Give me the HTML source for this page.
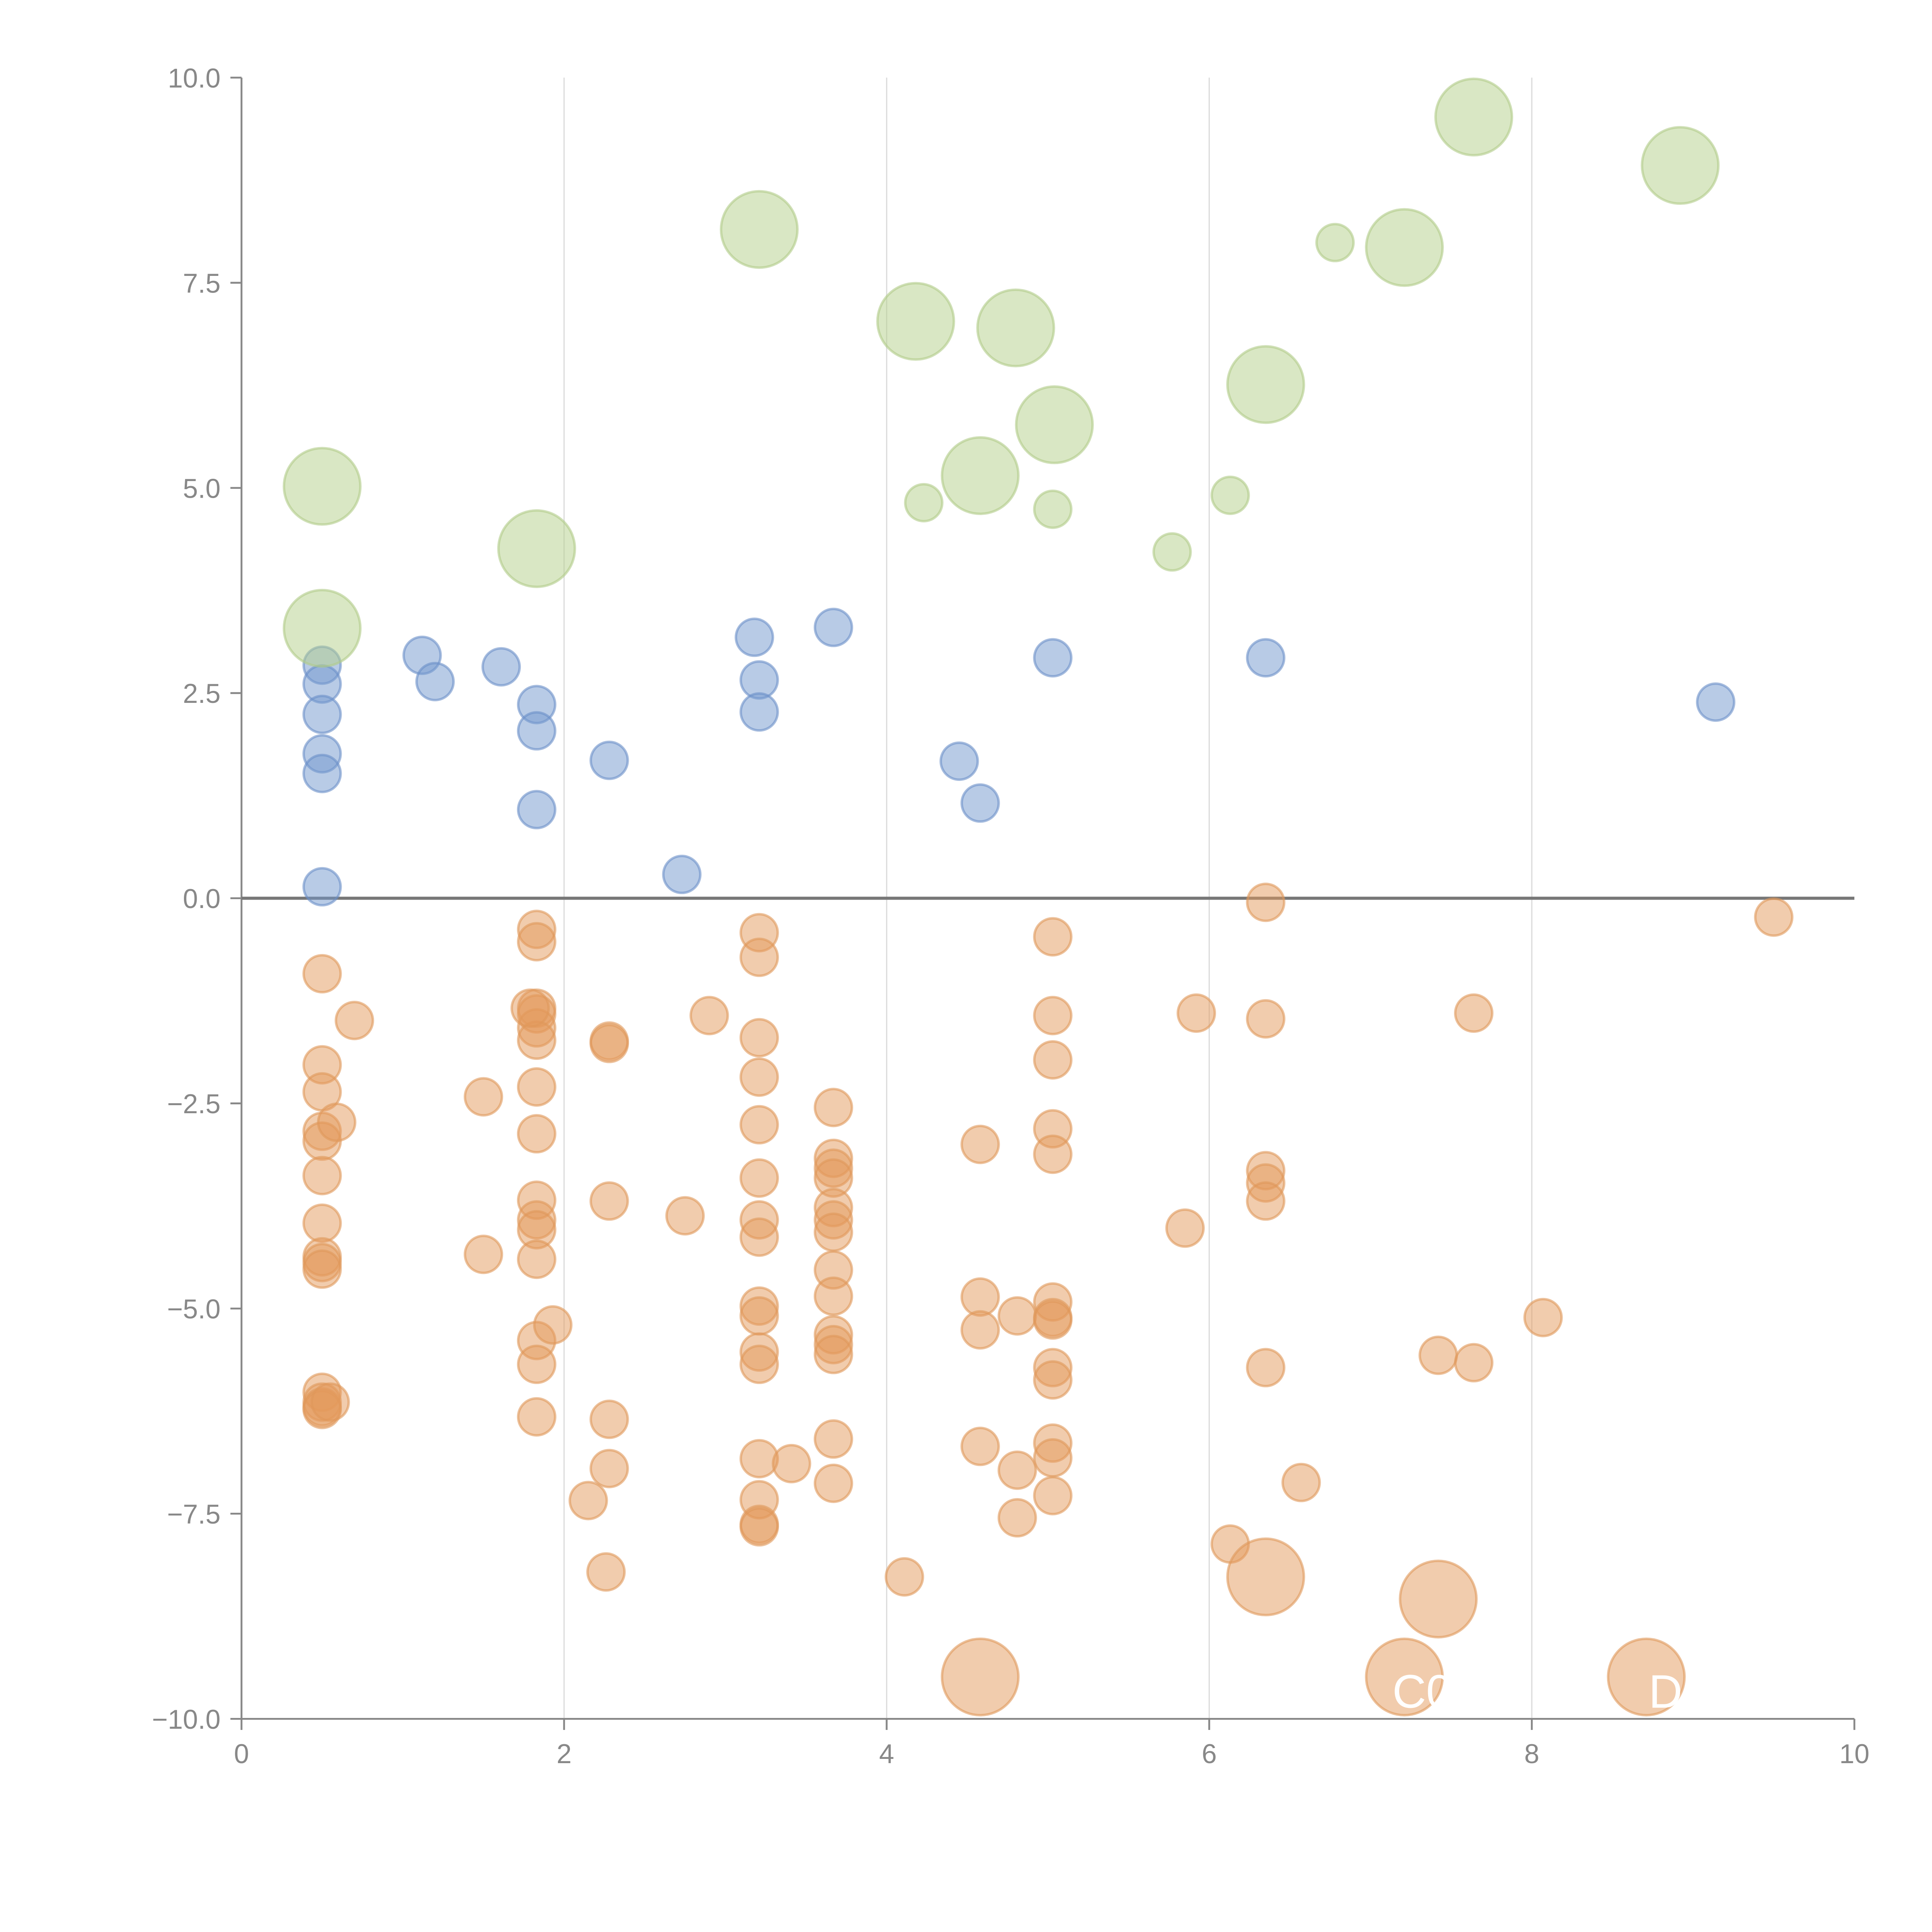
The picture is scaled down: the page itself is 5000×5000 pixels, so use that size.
<!DOCTYPE html>
<html><head><meta charset="utf-8"><style>
html,body{margin:0;padding:0;background:#fff}
svg{display:block}
text{font-family:"Liberation Sans",sans-serif}
</style></head><body>
<svg id="chart" width="5000" height="5000" viewBox="0 0 1568 1568" xmlns="http://www.w3.org/2000/svg">
<g id="grid"></g>
<g id="axes"></g>
<g id="marks"></g>
<text x="1130" y="1386" fill="#fff" font-size="38">C0</text>
<text x="1338" y="1386" fill="#fff" font-size="38">D</text>
</svg>
<script>
const xTicks=[0,2,4,6,8,10];
const yTicks=[10,7.5,5,2.5,0,-2.5,-5,-7.5,-10];
const yTickLabels=["10.0","7.5","5.0","2.5","0.0","\u22122.5","\u22125.0","\u22127.5","\u221210.0"];
const blueX=[0.5,0.5,0.5,0.5,0.5,0.5,1.12,1.2,1.61,1.83,1.83,1.83,2.28,2.73,3.18,3.21,3.21,3.67,4.45,4.58,5.03,6.35,9.14];
const blueY=[2.84,2.61,2.24,1.76,1.52,0.14,2.96,2.64,2.82,2.36,2.04,1.08,1.68,0.29,3.18,2.66,2.27,3.3,1.67,1.16,2.93,2.93,2.39];
const greenX=[0.5,0.5,1.83,3.21,4.18,4.8,4.58,5.04,6.35,7.21,7.64,8.92,4.23,5.03,5.77,6.13,6.78];
const greenY=[5.02,3.29,4.26,8.15,7.03,6.95,5.15,5.77,6.26,7.93,9.52,8.93,4.82,4.74,4.22,4.91,7.99];
const greenSize=[2,2,2,2,2,2,2,2,2,2,2,2,1,1,1,1,1];
const orangeX=[0.5,0.5,0.5,0.5,0.5,0.5,0.5,0.5,0.5,0.5,0.5,0.5,0.5,0.5,0.7,0.59,0.55,1.5,1.5,
1.83,1.83,1.83,1.83,1.83,1.83,1.83,1.83,1.83,1.83,1.83,1.83,1.83,1.83,1.83,1.79,1.93,
2.28,2.28,2.28,2.28,2.28,2.15,2.26,2.75,2.9,
3.21,3.21,3.21,3.21,3.21,3.21,3.21,3.21,3.21,3.21,3.21,3.21,3.21,3.21,3.21,3.21,3.41,
3.67,3.67,3.67,3.67,3.67,3.67,3.67,3.67,3.67,3.67,3.67,3.67,3.67,3.67,4.11,
4.58,4.58,4.58,4.58,4.81,4.81,4.81,
5.03,5.03,5.03,5.03,5.03,5.03,5.03,5.03,5.03,5.03,5.03,5.03,5.03,
5.85,5.92,6.13,6.35,6.35,6.35,6.35,6.35,6.35,6.57,7.42,7.64,7.64,8.07,9.5,
4.58,6.35,7.42,7.21,8.71];
const orangeY=[-0.92,-2.03,-2.36,-2.84,-2.96,-3.38,-3.96,-4.37,-4.44,-4.52,-6.02,-6.14,-6.2,-6.23,-1.49,-2.73,-6.14,-2.42,-4.34,
-0.38,-0.53,-1.34,-1.41,-1.58,-1.73,-2.3,-2.87,-3.68,-3.92,-4.04,-4.4,-5.39,-5.68,-6.32,-1.34,-5.2,
-1.74,-1.77,-3.69,-6.35,-6.95,-7.34,-8.21,-3.87,-1.43,
-0.42,-0.72,-1.7,-2.18,-2.76,-3.41,-3.92,-4.13,-4.97,-5.09,-5.53,-5.68,-6.83,-7.33,-7.63,-7.66,-6.89,
-2.55,-3.17,-3.29,-3.41,-3.77,-3.92,-4.07,-4.53,-4.85,-5.32,-5.44,-5.56,-6.59,-7.13,-8.27,
-3.0,-4.86,-5.26,-6.68,-5.09,-6.97,-7.55,
-0.47,-1.43,-1.97,-2.81,-3.12,-4.92,-5.11,-5.14,-5.72,-5.87,-6.64,-6.82,-7.28,
-4.02,-1.4,-7.87,-0.05,-1.47,-3.32,-3.47,-3.69,-5.72,-7.12,-5.57,-1.4,-5.66,-5.11,-0.23,
-9.49,-8.27,-8.54,-9.49,-9.49];
const orangeSize=orangeX.map((v,i)=>i>=orangeX.length-5?2:1);

const NS="http://www.w3.org/2000/svg";
const L=196,R=1505,T=63,B=1395;
function sx(v){return L+(v-0)/(10-0)*(R-L);}
function sy(v){return B-(v+10)/20*(B-T);}
function rad(s){return s===2?31:15;}
function mk(tag,attrs,parent){const e=document.createElementNS(NS,tag);for(const k in attrs)e.setAttribute(k,attrs[k]);parent.appendChild(e);return e;}
const grid=document.getElementById('grid'),axes=document.getElementById('axes'),marks=document.getElementById('marks');
xTicks.forEach((t,i)=>{
  if(t>0&&t<10){const g=mk('line',{x1:sx(t),x2:sx(t),y1:T,y2:B,stroke:'#dcdcdc','stroke-width':1},grid);
  
  }
  const tk=mk('line',{x1:sx(t),x2:sx(t),y1:B,y2:B+9,stroke:'#888','stroke-width':1.5},axes);
  
  
  const lb=mk('text',{x:sx(t),y:B+36,'text-anchor':'middle','font-size':22,fill:'#888'},axes);
  lb.textContent=String(t);
  
  
});
yTicks.forEach((t,i)=>{
  const tk=mk('line',{x1:L-9,x2:L,y1:sy(t),y2:sy(t),stroke:'#888','stroke-width':1.5},axes);
  
  
  const lb=mk('text',{x:L-17,y:sy(t)+8,'text-anchor':'end','font-size':22,fill:'#888'},axes);
  lb.textContent=yTickLabels[i];
  
  
});
const ya=mk('line',{x1:L,x2:L,y1:T,y2:B,stroke:'#888','stroke-width':1.5},axes);


const xa=mk('line',{x1:L,x2:R,y1:B,y2:B,stroke:'#888','stroke-width':1.5},axes);


function series(xs,ys,sz,fill,stroke,name){
  xs.forEach((x,i)=>{
    const c=mk('circle',{cx:sx(x),cy:sy(ys[i]),r:rad(sz[i]),fill:fill,'fill-opacity':0.5,stroke:stroke,'stroke-opacity':0.6,'stroke-width':2},marks);
    
    
  });
}
series(orangeX,orangeY,orangeSize,'#e39a5c','#e0985a','bubble-orange');
series(blueX,blueY,blueX.map(()=>1),'#7298cd','#6a90c8','bubble-blue');
series(greenX,greenY,greenSize,'#b3cf8a','#b0cc88','bubble-green');
const z=mk('line',{x1:L,x2:R,y1:sy(0),y2:sy(0),stroke:'#777','stroke-width':2.5},axes);


</script>
</body></html>
